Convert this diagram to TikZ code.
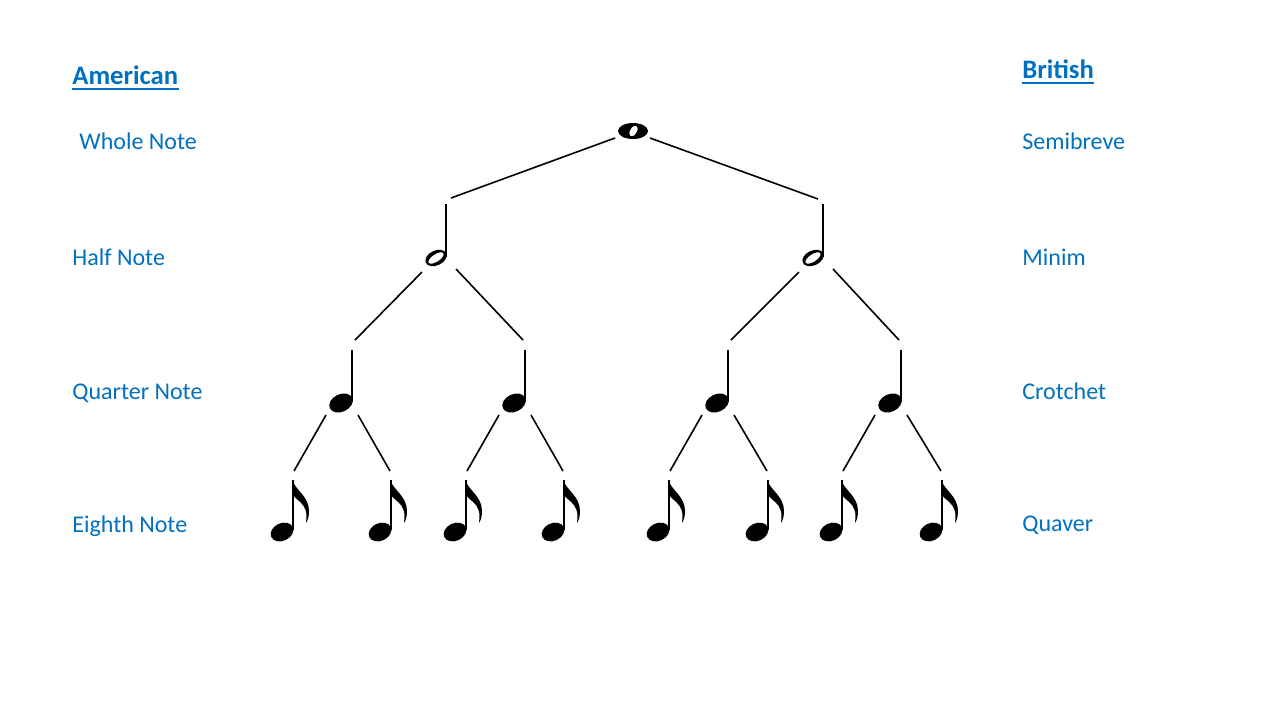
\documentclass[tikz,border=0pt]{standalone}
\usepackage{fontspec}
\setmainfont{Carlito}
\definecolor{slideblue}{HTML}{0070C0}
\tikzset{
  namelbl/.style={text=slideblue, inner sep=0pt, anchor=base west, font=\fontsize{12}{14}\selectfont},
  headlbl/.style={namelbl, font=\fontsize{13.33}{16}\selectfont\bfseries},
  branch/.style={line width=0.8pt},
  stemline/.style={line width=1.3pt},
  wholenote/.pic={
    \begin{scope}[yscale=-1]
    \fill[even odd rule] (0,0) circle[x radius=15, y radius=8] (0.5,0) circle[x radius=3.4, y radius=6, rotate=30];
    \end{scope}
  },
  halfnote/.pic={
    \begin{scope}[yscale=-1]
    \fill[even odd rule] (-10,54) circle[x radius=11.2, y radius=7.4, rotate=-25] (-10,54) circle[x radius=8.8, y radius=3.8, rotate=-33];
    \draw[stemline] (0,0) -- (0,53);
    \end{scope}
  },
  quarternote/.pic={
    \begin{scope}[yscale=-1]
    \fill (-11,53) circle[x radius=12.3, y radius=8.8, rotate=-25];
    \draw[stemline] (0,0) -- (0,52);
    \end{scope}
  },
  eighthnote/.pic={
    \begin{scope}[yscale=-1]
    \fill (-11,52) circle[x radius=11.8, y radius=8.8, rotate=-25];
    \draw[stemline] (0,0) -- (0,50);
    \fill (-0.6,0) .. controls (2,10) and (16,16) .. (16,31) .. controls (16,36) and (15,40) .. (13,43) .. controls (13.5,37) and (14,34) .. (12.5,30) .. controls (10.5,23) and (4,20) .. (-0.6,15) -- cycle;
    \end{scope}
  },
}
\begin{document}
\begin{tikzpicture}[x=0.5pt,y=0.5pt,yscale=-1,xscale=1]
\useasboundingbox (0,0) rectangle (1280,720);

% Headings
\node[headlbl] (amer) at (72,84) {American};
\draw[slideblue, line width=1pt] ([shift={(0,5)}]amer.base west) -- ([shift={(0,5)}]amer.base east);
\node[headlbl] (brit) at (1022,78) {British};
\draw[slideblue, line width=1pt] ([shift={(0,5)}]brit.base west) -- ([shift={(0,5)}]brit.base east);

% American names
\node[namelbl] (whole) at (79,149) {Whole Note};
\node[namelbl] (half) at (72,265) {Half Note};
\node[namelbl] (quarter) at (72,399) {Quarter Note};
\node[namelbl] (eighth) at (72,532) {Eighth Note};

% British names
\node[namelbl] (semibreve) at (1022,149) {Semibreve};
\node[namelbl] (minim) at (1022,265) {Minim};
\node[namelbl] (crotchet) at (1022,399) {Crotchet};
\node[namelbl] (quaver) at (1022,531) {Quaver};

% Notes
\path (633,131) coordinate (w) pic {wholenote};
\path (446,204) coordinate (h1) pic {halfnote};
\path (823,204) coordinate (h2) pic {halfnote};
\path (352,350) coordinate (q1) pic {quarternote};
\path (525,350) coordinate (q2) pic {quarternote};
\path (728,350) coordinate (q3) pic {quarternote};
\path (901,350) coordinate (q4) pic {quarternote};
\path (293,480) coordinate (e1) pic {eighthnote};
\path (391,480) coordinate (e2) pic {eighthnote};
\path (466,480) coordinate (e3) pic {eighthnote};
\path (564,480) coordinate (e4) pic {eighthnote};
\path (669,480) coordinate (e5) pic {eighthnote};
\path (768,480) coordinate (e6) pic {eighthnote};
\path (842,480) coordinate (e7) pic {eighthnote};
\path (942,480) coordinate (e8) pic {eighthnote};

%Straight Lines: whole to halves
\draw[branch] ([shift={(-18,7)}]w) -- ([shift={(5,-6)}]h1);
\draw[branch] ([shift={(17,7)}]w) -- ([shift={(-5,-5)}]h2);

%Straight Lines: halves to quarters
\draw[branch] ([shift={(-24,68)}]h1) -- ([shift={(3,-10)}]q1);
\draw[branch] ([shift={(10,65)}]h1) -- ([shift={(-2,-10)}]q2);
\draw[branch] ([shift={(-24,68)}]h2) -- ([shift={(3,-10)}]q3);
\draw[branch] ([shift={(10,65)}]h2) -- ([shift={(-2,-10)}]q4);

%Straight Lines: quarters to eighths
\draw[branch] ([shift={(-26,65)}]q1) -- ([shift={(1,-9)}]e1);
\draw[branch] ([shift={(6,65)}]q1) -- ([shift={(-1,-9)}]e2);
\draw[branch] ([shift={(-26,65)}]q2) -- ([shift={(1,-9)}]e3);
\draw[branch] ([shift={(6,65)}]q2) -- ([shift={(-1,-9)}]e4);
\draw[branch] ([shift={(-26,65)}]q3) -- ([shift={(1,-9)}]e5);
\draw[branch] ([shift={(6,65)}]q3) -- ([shift={(-1,-9)}]e6);
\draw[branch] ([shift={(-26,65)}]q4) -- ([shift={(1,-9)}]e7);
\draw[branch] ([shift={(6,65)}]q4) -- ([shift={(-1,-9)}]e8);

\end{tikzpicture}
\end{document}
